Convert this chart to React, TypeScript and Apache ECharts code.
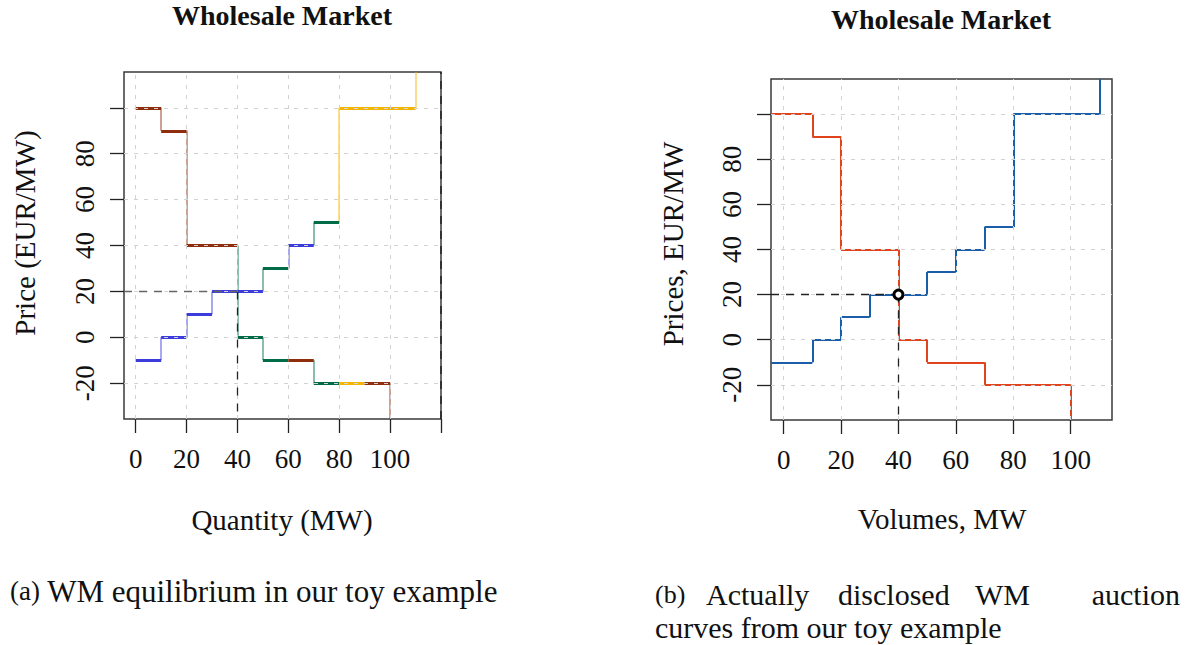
import React, { useEffect, useRef } from "react";
import * as echarts from "echarts";

// ---------- data ----------
const xTicksA = [0, 20, 40, 60, 80, 100, 120];
const xLabelsA = [0, 20, 40, 60, 80, 100];
const xTicksB = [0, 20, 40, 60, 80, 100];
const xLabelsB = [0, 20, 40, 60, 80, 100];
const yTicks = [-20, 0, 20, 40, 60, 80, 100];
const yLabels = [-20, 0, 20, 40, 60, 80];

// (a) equilibrium: orders per participant
const demandAPrices = [100, 90, 40, 0, -10, -10, -20, -20, -20];
const demandAVolumes = [10, 10, 20, 10, 10, 10, 10, 10, 10];
const demandAOwners = ["A", "A", "A", "C", "C", "A", "C", "D", "A"];
const supplyAPrices = [-10, 0, 10, 20, 20, 30, 40, 50, 100];
const supplyAVolumes = [10, 10, 10, 10, 10, 10, 10, 10, 30];
const supplyAOwners = ["B", "B", "B", "B", "B", "C", "B", "C", "D"];
const equilibriumA = [40, 20];
const capacityA = 120;

// (b) disclosed aggregated curves
const demandBPrices = [100, 90, 40, 0, -10, -20];
const demandBVolumes = [10, 10, 20, 10, 20, 30];
const supplyBPrices = [-10, 0, 10, 20, 30, 40, 50, 100];
const supplyBVolumes = [10, 10, 10, 20, 10, 10, 10, 30];
const equilibriumB = [40, 20];

// ---------- styles ----------
const FONT = "Liberation Serif, serif";
const OWNER_COLORS: Record<string, string> = {
  A: "#8E2E0C",
  B: "#3C3CDC",
  C: "#006B47",
  D: "#F4B500",
};
const DEMAND_B = "#E0441C";
const SUPPLY_B = "#1A5EAA";
const GRID_COLOR = "#d2d2d2";

const xMinA = -4.6, xMaxA = 120;
const xMinB = -4.4, xMaxB = 114.4;
const yMin = -35.6, yMax = 115.6;

type Seg = { x0: number; x1: number; y0: number; y1: number; owner: string };

function buildSteps(prices: number[], volumes: number[], owners: string[], startX: number, endY: number) {
  const hs: Seg[] = [];
  const vs: Seg[] = [];
  let x = 0;
  for (let i = 0; i < prices.length; i++) {
    const x0 = x;
    const x1 = x + volumes[i];
    hs.push({ x0: i === 0 ? startX : x0, x1, y0: prices[i], y1: prices[i], owner: owners[i] });
    if (i > 0) vs.push({ x0, x1: x0, y0: prices[i - 1], y1: prices[i], owner: owners[i] });
    x = x1;
  }
  vs.push({ x0: x, x1: x, y0: prices[prices.length - 1], y1: endY, owner: owners[owners.length - 1] });
  return { hs, vs };
}

function segData(segs: Seg[], colorOf: (o: string) => string) {
  return segs.map((s) => ({
    coords: [[s.x0, s.y0], [s.x1, s.y1]],
    lineStyle: { color: colorOf(s.owner) },
  }));
}

function gridData(xs: number[], ys: number[], x0: number, x1: number) {
  const d: any[] = [];
  xs.forEach((x) => d.push({ coords: [[x, yMin], [x, yMax]] }));
  ys.forEach((y) => d.push({ coords: [[x0, y], [x1, y]] }));
  return d;
}

function linesSeries(idx: number, data: any[], width: number, opacity: number, z: number, type: any = "solid", color?: string) {
  return {
    type: "lines",
    coordinateSystem: "cartesian2d",
    xAxisIndex: idx,
    yAxisIndex: idx,
    polyline: false,
    silent: true,
    z,
    lineStyle: { width, opacity, type, color, cap: "butt" },
    data,
  };
}

function xAxisCfg(idx: number, min: number, max: number, ticks: number[], labels: number[]) {
  return {
    gridIndex: idx,
    type: "value",
    position: "bottom",
    min,
    max,
    axisLine: { show: false, onZero: false },
    splitLine: { show: false },
    axisTick: { show: true, length: 14, customValues: ticks, lineStyle: { color: "#222", width: 1.3 } },
    axisLabel: { customValues: labels, margin: 26, fontFamily: FONT, fontSize: 27, color: "#111" },
  };
}

function yAxisCfg(idx: number) {
  return {
    gridIndex: idx,
    type: "value",
    position: "left",
    min: yMin,
    max: yMax,
    axisLine: { show: false, onZero: false },
    splitLine: { show: false },
    axisTick: { show: true, length: 14, customValues: yTicks, lineStyle: { color: "#222", width: 1.3 } },
    axisLabel: { customValues: yLabels, rotate: 90, margin: 26, fontFamily: FONT, fontSize: 27, color: "#111" },
  };
}

const txt = (text: string, x: number, y: number, size: number, extra: any = {}, rotation = 0) => ({
  type: "text",
  x,
  y,
  rotation,
  style: { text, fontFamily: FONT, fontSize: size, fill: "#111", align: "center", verticalAlign: "middle", ...extra },
});

export default function App() {
  const ref = useRef<HTMLDivElement>(null);
  useEffect(() => {
    if (!ref.current) return;
    const chart = echarts.init(ref.current, undefined, { renderer: "svg" });

    const dA = buildSteps(demandAPrices, demandAVolumes, demandAOwners, 0, yMin);
    const sA = buildSteps(supplyAPrices, supplyAVolumes, supplyAOwners, 0, yMax);
    const dB = buildSteps(demandBPrices, demandBVolumes, demandBPrices.map(() => "d"), xMinB, yMin);
    const sB = buildSteps(supplyBPrices, supplyBVolumes, supplyBPrices.map(() => "s"), xMinB, yMax);
    const ownerColor = (o: string) => OWNER_COLORS[o];
    const bColor = (o: string) => (o === "d" ? DEMAND_B : SUPPLY_B);
    const richA = { s: { fontFamily: FONT, fontSize: 27, fill: "#111" } };
    const richB = { s: { fontFamily: FONT, fontSize: 26, fill: "#111" } };
    const cap = { align: "left" };

    const option: any = {
      animation: false,
      backgroundColor: "#fff",
      textStyle: { fontFamily: FONT },
      grid: [
        { left: 124, top: 72, width: 317, height: 347, show: true, borderColor: "#3a3a3a", borderWidth: 1.5, backgroundColor: "transparent" },
        { left: 771, top: 79, width: 341, height: 341, show: true, borderColor: "#3a3a3a", borderWidth: 1.5, backgroundColor: "transparent" },
      ],
      xAxis: [xAxisCfg(0, xMinA, xMaxA, xTicksA, xLabelsA), xAxisCfg(1, xMinB, xMaxB, xTicksB, xLabelsB)],
      yAxis: [yAxisCfg(0), yAxisCfg(1)],
      series: [
        // (a)
        linesSeries(0, segData([...dA.vs, ...sA.vs], ownerColor), 1.5, 0.6, 2),
        linesSeries(0, segData([...dA.hs, ...sA.hs], ownerColor), 3, 1, 3),
        linesSeries(0, gridData(xLabelsA, yTicks, xMinA, xMaxA), 1, 1, 5, [4, 6], GRID_COLOR),
        linesSeries(0, [{ coords: [[xMinA, equilibriumA[1]], [equilibriumA[0], equilibriumA[1]]] }], 1.3, 1, 6, [8, 7], "#666"),
        linesSeries(0, [{ coords: [[equilibriumA[0], equilibriumA[1]], [equilibriumA[0], yMin]] }], 1.3, 1, 6, [8, 8], "#222"),
        linesSeries(0, [{ coords: [[capacityA, yMin], [capacityA, yMax]] }], 1.5, 1, 6, [8, 7], "#222"),
        // (b)
        linesSeries(1, segData([...dB.vs, ...sB.vs, ...dB.hs, ...sB.hs], bColor), 2, 1, 3),
        linesSeries(1, gridData(xLabelsB, yTicks, xMinB, xMaxB), 1, 1, 5, [4, 6], GRID_COLOR),
        linesSeries(1, [{ coords: [[xMinB, equilibriumB[1]], [equilibriumB[0], equilibriumB[1]]] }], 1.3, 1, 6, [8, 7], "#222"),
        linesSeries(1, [{ coords: [[equilibriumB[0], equilibriumB[1]], [equilibriumB[0], yMin]] }], 1.3, 1, 6, [8, 8], "#222"),
        {
          type: "scatter",
          xAxisIndex: 1,
          yAxisIndex: 1,
          z: 10,
          symbol: "circle",
          symbolSize: 9,
          itemStyle: { color: "#fff", borderColor: "#000", borderWidth: 3, opacity: 1 },
          data: [equilibriumB],
        },
      ],
      graphic: [
        txt("Wholesale Market", 282, 15, 28, { fontWeight: "bold" }),
        txt("Wholesale Market", 941, 19, 28, { fontWeight: "bold" }),
        txt("Quantity (MW)", 282, 520, 29),
        txt("Volumes, MW", 942, 519, 29),
        txt("Price (EUR/MW)", 25, 233, 29, {}, Math.PI / 2),
        txt("Prices, EUR/MW", 673, 244, 29, {}, Math.PI / 2),
        txt("{s|(a)} WM equilibrium in our toy example", 10, 591, 31, { ...cap, rich: richA }),
        txt("{s|(b)}", 655, 594, 30, { ...cap, rich: richB }),
        txt("Actually", 706, 594, 30, cap),
        txt("disclosed", 838, 594, 30, cap),
        txt("WM", 975, 594, 30, cap),
        txt("auction", 1180, 594, 30, { ...cap, align: "right" }),
        txt("curves from our toy example", 655, 627, 30, cap),
      ],
    };
    chart.setOption(option);
    return () => chart.dispose();
  }, []);
  return <div ref={ref} style={{ position: "absolute", left: 0, top: 0, width: 1186, height: 645, background: "#fff" }} />;
}
